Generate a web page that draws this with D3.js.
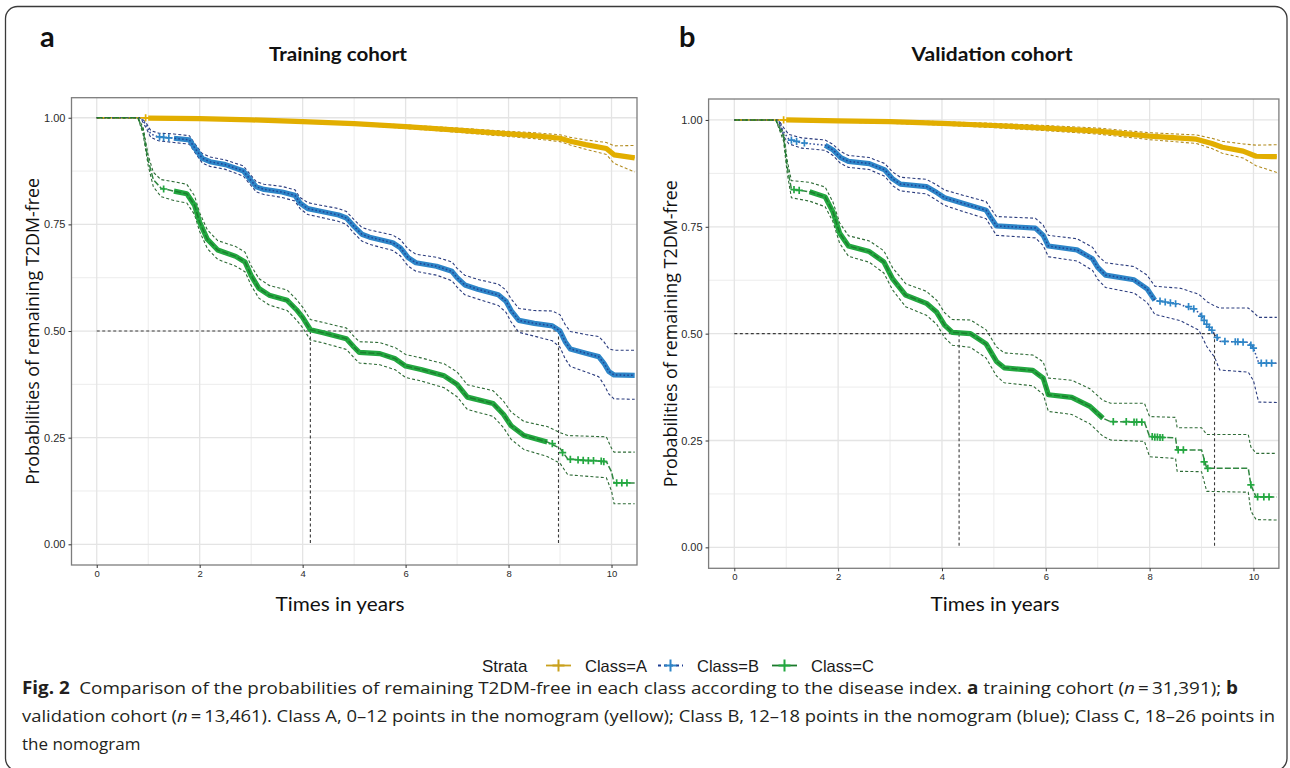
<!DOCTYPE html>
<html><head><meta charset="utf-8">
<script src="https://cdn.jsdelivr.net/npm/d3@7"></script>
<style>body{margin:0;background:#fff}svg{display:block}</style>
</head><body>
<svg id="c" width="1290" height="768"></svg>
<script>
// ---------- DATA ----------
// rows: [time (years), survival estimate, lower CI, upper CI]
const trainA = [[0,1,1,1],[0.9,1,1,1],[1.0,0.999,0.998,1.0],[2,0.998,0.996,1.0],[3,0.995,0.993,0.997],[4,0.991,0.988,0.994],[5,0.986,0.983,0.989],[6,0.979,0.975,0.983],[7,0.971,0.966,0.976],[8,0.962,0.956,0.968],[8.5,0.958,0.951,0.965],[9,0.952,0.944,0.96],[9.2,0.945,0.936,0.954],[9.5,0.937,0.926,0.948],[9.9,0.928,0.914,0.942],[10.05,0.913,0.893,0.934],[10.45,0.906,0.873,0.935]];
const trainB = [[0,1,1,1],[0.85,1,1,1],[0.95,0.985,0.978,0.99],[1.05,0.962,0.954,0.97],[1.2,0.955,0.946,0.964],[1.5,0.952,0.942,0.962],[1.8,0.948,0.938,0.958],[1.9,0.93,0.92,0.94],[2.05,0.905,0.894,0.916],[2.2,0.897,0.886,0.908],[2.5,0.89,0.879,0.901],[2.85,0.875,0.863,0.887],[2.95,0.86,0.848,0.872],[3.1,0.838,0.826,0.85],[3.25,0.832,0.82,0.844],[3.6,0.826,0.813,0.839],[3.85,0.818,0.805,0.831],[3.95,0.8,0.787,0.813],[4.1,0.787,0.773,0.801],[4.3,0.782,0.768,0.796],[4.7,0.772,0.757,0.787],[4.85,0.765,0.75,0.78],[5.0,0.745,0.729,0.761],[5.15,0.727,0.711,0.743],[5.3,0.72,0.703,0.737],[5.75,0.707,0.689,0.725],[5.9,0.695,0.676,0.714],[6.05,0.672,0.652,0.692],[6.2,0.66,0.64,0.68],[6.6,0.652,0.631,0.673],[6.9,0.64,0.618,0.662],[7.0,0.625,0.603,0.647],[7.15,0.608,0.585,0.631],[7.4,0.598,0.575,0.621],[7.8,0.585,0.56,0.61],[7.95,0.57,0.544,0.596],[8.05,0.548,0.521,0.575],[8.2,0.525,0.497,0.553],[8.5,0.518,0.488,0.548],[8.85,0.512,0.477,0.547],[9.0,0.5,0.462,0.538],[9.1,0.475,0.435,0.515],[9.2,0.458,0.417,0.499],[9.5,0.448,0.404,0.492],[9.75,0.44,0.393,0.487],[9.85,0.425,0.375,0.475],[9.95,0.405,0.352,0.458],[10.05,0.397,0.341,0.455],[10.45,0.396,0.34,0.455]];
const trainC = [[0,1,1,1],[0.8,1,1,1],[0.9,0.97,0.962,0.978],[1.0,0.9,0.888,0.912],[1.1,0.855,0.838,0.872],[1.25,0.835,0.815,0.855],[1.5,0.828,0.806,0.85],[1.75,0.822,0.8,0.844],[1.9,0.795,0.773,0.817],[2.0,0.755,0.733,0.777],[2.15,0.715,0.693,0.737],[2.35,0.69,0.668,0.712],[2.7,0.675,0.652,0.698],[2.88,0.662,0.639,0.685],[3.0,0.63,0.607,0.653],[3.15,0.6,0.577,0.623],[3.35,0.584,0.561,0.607],[3.7,0.572,0.548,0.596],[3.88,0.55,0.526,0.574],[4.0,0.532,0.508,0.556],[4.15,0.503,0.479,0.527],[4.4,0.496,0.472,0.52],[4.85,0.482,0.457,0.507],[5.0,0.462,0.437,0.487],[5.1,0.45,0.425,0.475],[5.5,0.447,0.421,0.473],[5.8,0.435,0.409,0.461],[6.0,0.418,0.391,0.445],[6.3,0.41,0.383,0.437],[6.75,0.395,0.367,0.423],[7.0,0.375,0.346,0.404],[7.2,0.345,0.316,0.374],[7.7,0.33,0.3,0.36],[7.9,0.305,0.274,0.336],[8.05,0.278,0.246,0.31],[8.3,0.255,0.222,0.288],[8.75,0.24,0.206,0.276],[9.0,0.225,0.19,0.262],[9.15,0.2,0.163,0.255],[9.9,0.194,0.156,0.252],[10.0,0.17,0.125,0.225],[10.05,0.144,0.095,0.216],[10.45,0.144,0.095,0.216]];
const valA = [[0,1,1,1],[0.9,1,1,1],[1.0,1.0,0.998,1.0],[2,0.998,0.995,1.0],[3,0.996,0.992,0.999],[4,0.992,0.988,0.996],[5,0.987,0.982,0.992],[6,0.981,0.975,0.987],[7,0.974,0.967,0.981],[8,0.962,0.954,0.97],[8.9,0.955,0.945,0.965],[9.2,0.945,0.933,0.957],[9.4,0.936,0.922,0.95],[9.8,0.927,0.911,0.944],[10.05,0.915,0.893,0.941],[10.45,0.914,0.877,0.942]];
const valB = [[0,1,1,1],[0.85,1,1,1],[0.95,0.972,0.962,0.982],[1.05,0.955,0.944,0.966],[1.3,0.946,0.934,0.958],[1.75,0.941,0.929,0.953],[1.9,0.93,0.917,0.943],[2.05,0.912,0.898,0.926],[2.2,0.903,0.889,0.917],[2.6,0.898,0.884,0.912],[2.9,0.883,0.868,0.898],[3.05,0.862,0.846,0.878],[3.2,0.85,0.834,0.866],[3.7,0.844,0.827,0.861],[3.9,0.83,0.812,0.848],[4.05,0.818,0.8,0.836],[4.4,0.805,0.786,0.824],[4.85,0.789,0.769,0.809],[4.95,0.77,0.749,0.791],[5.05,0.752,0.73,0.774],[5.8,0.747,0.724,0.77],[5.95,0.73,0.706,0.754],[6.05,0.705,0.68,0.73],[6.6,0.696,0.67,0.722],[6.9,0.675,0.648,0.702],[7.0,0.655,0.627,0.683],[7.15,0.637,0.608,0.666],[7.7,0.626,0.595,0.657],[7.95,0.605,0.573,0.637],[8.1,0.578,0.545,0.611],[8.6,0.568,0.53,0.606],[8.95,0.55,0.508,0.592],[9.1,0.522,0.47,0.575],[9.25,0.5,0.445,0.565],[9.35,0.482,0.415,0.56],[9.9,0.48,0.41,0.56],[10.0,0.466,0.39,0.55],[10.1,0.432,0.34,0.538],[10.45,0.431,0.339,0.538]];
const valC = [[0,1,1,1],[0.8,1,1,1],[0.95,0.96,0.95,0.97],[1.02,0.89,0.875,0.905],[1.1,0.838,0.818,0.858],[1.45,0.832,0.81,0.854],[1.75,0.82,0.797,0.843],[1.9,0.785,0.762,0.808],[2.03,0.735,0.711,0.759],[2.2,0.705,0.681,0.729],[2.6,0.692,0.667,0.717],[2.88,0.668,0.642,0.694],[3.05,0.628,0.602,0.654],[3.3,0.59,0.563,0.617],[3.7,0.571,0.543,0.599],[3.9,0.55,0.522,0.578],[4.05,0.52,0.491,0.549],[4.2,0.503,0.473,0.533],[4.55,0.5,0.468,0.532],[4.85,0.476,0.443,0.509],[5.05,0.435,0.401,0.469],[5.2,0.42,0.385,0.455],[5.75,0.414,0.378,0.45],[5.95,0.396,0.358,0.434],[6.05,0.357,0.318,0.396],[6.5,0.351,0.311,0.391],[6.85,0.33,0.289,0.371],[7.1,0.302,0.26,0.344],[7.25,0.294,0.251,0.337],[7.9,0.293,0.248,0.337],[8.0,0.259,0.212,0.306],[8.5,0.256,0.208,0.304],[8.53,0.228,0.178,0.28],[9.0,0.228,0.177,0.28],[9.1,0.185,0.131,0.264],[9.9,0.185,0.129,0.264],[9.95,0.146,0.085,0.235],[10.05,0.118,0.065,0.22],[10.45,0.118,0.064,0.22]];

// time span where censoring marks are so dense they form a solid band
const trainA_band = [0.95, 10.45], trainB_band = [1.5, 10.45], trainC_band = [1.4, 8.75];
const valA_band = [0.95, 10.45], valB_band = [1.5, 8.1], valC_band = [1.3, 7.1];

// individual (sparse) censoring marks [time, survival]
const trainA_marks = [[0.95,1.0]];
const trainB_marks = [[1.22,0.955],[1.3,0.954],[1.4,0.953]];
const trainC_marks = [[1.3,0.833],[8.85,0.236],[9.05,0.215],[9.2,0.199],[9.35,0.198],[9.45,0.197],[9.55,0.196],[9.65,0.196],[9.8,0.195],[9.85,0.194],[10.1,0.144],[10.2,0.144],[10.3,0.144]];
const valA_marks = [[0.95,1.0]];
const valB_marks = [[1.1,0.953],[1.2,0.95],[1.35,0.946],[8.2,0.576],[8.3,0.574],[8.4,0.572],[8.5,0.57],[8.75,0.563],[8.85,0.558],[9.0,0.541],[9.05,0.531],[9.1,0.522],[9.15,0.515],[9.2,0.508],[9.3,0.491],[9.45,0.482],[9.65,0.481],[9.7,0.481],[9.8,0.48],[9.95,0.473],[10.0,0.466],[10.15,0.431],[10.25,0.431],[10.35,0.431]];
const valC_marks = [[1.15,0.837],[1.25,0.835],[7.3,0.294],[7.55,0.294],[7.7,0.293],[7.75,0.293],[7.85,0.293],[8.05,0.259],[8.1,0.258],[8.15,0.258],[8.2,0.257],[8.25,0.257],[8.55,0.228],[8.65,0.228],[9.05,0.2],[9.12,0.185],[9.95,0.146],[10.08,0.118],[10.2,0.118],[10.3,0.118]];

// median survival times (B and C) marked by dashed reference lines
const trainMedians = [4.15, 8.97];
const valMedians = [4.33, 9.25];

const classes = ["A", "B", "C"];
const classLabels = ["Class=A", "Class=B", "Class=C"];
const xTicks = [0, 2, 4, 6, 8, 10];
const xMinor = [1, 3, 5, 7, 9];
const yTicks = [0, 0.25, 0.5, 0.75, 1];
const yMinor = [0.125, 0.375, 0.625, 0.875];
const panelTitles = ["Training cohort", "Validation cohort"];
const panelLetters = ["a", "b"];

// ---------- STYLES ----------
const style = {
  A: {mark: "#E2AE00", line: "#E2AE00", ci: "#B38D22", dash: null, key: "#C9A11E", keyDash: null},
  B: {mark: "#2E86C8", line: "#1F3F93", ci: "#2B3C7E", dash: "1.6,2.2", key: "#1F3F93", keyDash: "3,3"},
  C: {mark: "#23A840", line: "#1B7A2C", ci: "#2E6B36", dash: "6,2.2", key: "#1B7A2C", keyDash: null}
};

const svg = d3.select("#c");
const defs = svg.append("defs");

// outer frame
svg.append("rect").attr("x", 5.5).attr("y", 6.5).attr("width", 1281.5).attr("height", 764)
  .attr("rx", 12).attr("fill", "none").attr("stroke", "#3a3a3a").attr("stroke-width", 1.3);

const panels = [
  {series: {A: trainA, B: trainB, C: trainC}, bands: {A: trainA_band, B: trainB_band, C: trainC_band},
   marks: {A: trainA_marks, B: trainB_marks, C: trainC_marks}, medians: trainMedians,
   l: 71.5, r: 637, t: 97.7, b: 565, xdom: [-0.49, 10.495], ydom: [-0.0485, 1.047],
   letterX: 40, titleX: 338, titleW: 138, yTitleX: 39, xTitleX: 340},
  {series: {A: valA, B: valB, C: valC}, bands: {A: valA_band, B: valB_band, C: valC_band},
   marks: {A: valA_marks, B: valB_marks, C: valC_marks}, medians: valMedians,
   l: 708.6, r: 1278.9, t: 99, b: 568.3, xdom: [-0.495, 10.49], ydom: [-0.049, 1.049],
   letterX: 679, titleX: 992, titleW: 161, yTitleX: 677, xTitleX: 995}
];

function plus(x, y, s) { return `M${x - s},${y}h${2 * s}M${x},${y - s}v${2 * s}`; }

panels.forEach((p, i) => {
  const x = d3.scaleLinear().domain(p.xdom).range([p.l, p.r]);
  const y = d3.scaleLinear().domain(p.ydom).range([p.b, p.t]);
  const g = svg.append("g");

  g.append("rect").attr("x", p.l).attr("y", p.t).attr("width", p.r - p.l).attr("height", p.b - p.t).attr("fill", "#fff");
  // grid
  g.selectAll(null).data(xMinor).join("line").attr("x1", d => x(d)).attr("x2", d => x(d))
    .attr("y1", p.t).attr("y2", p.b).attr("stroke", "#ececec").attr("stroke-width", 1);
  g.selectAll(null).data(yMinor).join("line").attr("y1", d => y(d)).attr("y2", d => y(d))
    .attr("x1", p.l).attr("x2", p.r).attr("stroke", "#ececec").attr("stroke-width", 1);
  g.selectAll(null).data(xTicks).join("line").attr("x1", d => x(d)).attr("x2", d => x(d))
    .attr("y1", p.t).attr("y2", p.b).attr("stroke", "#e4e4e4").attr("stroke-width", 1.3);
  g.selectAll(null).data(yTicks).join("line").attr("y1", d => y(d)).attr("y2", d => y(d))
    .attr("x1", p.l).attr("x2", p.r).attr("stroke", "#e4e4e4").attr("stroke-width", 1.3);

  const cid = "clip" + i;
  defs.append("clipPath").attr("id", cid).append("rect")
    .attr("x", p.l).attr("y", p.t).attr("width", p.r - p.l).attr("height", p.b - p.t);
  const pg = g.append("g").attr("clip-path", `url(#${cid})`);

  const lineCol = k => d3.line().x(d => x(d[0])).y(d => y(d[k]));

  // confidence limits
  classes.forEach(c => {
    const rows = p.series[c];
    [2, 3].forEach(k => {
      pg.append("path").datum(rows).attr("d", lineCol(k)).attr("fill", "none")
        .attr("stroke", style[c].ci).attr("stroke-width", 1.1).attr("stroke-dasharray", "3,2.2");
    });
  });

  // median reference lines
  const med = p.medians;
  pg.append("line").attr("x1", x(0)).attr("x2", x(med[1])).attr("y1", y(0.5)).attr("y2", y(0.5))
    .attr("stroke", "#3b3b3b").attr("stroke-width", 1.1).attr("stroke-dasharray", "3,2.5");
  pg.selectAll(null).data(med).join("line").attr("x1", d => x(d)).attr("x2", d => x(d))
    .attr("y1", y(0.5)).attr("y2", y(0)).attr("stroke", "#3b3b3b").attr("stroke-width", 1.1)
    .attr("stroke-dasharray", "3,2.5");

  // survival curves
  classes.forEach(c => {
    const rows = p.series[c];
    const s = style[c];
    const band = p.bands[c];
    const bandRows = rows.filter(d => d[0] >= band[0] && d[0] <= band[1]);
    pg.append("path").datum(bandRows).attr("d", lineCol(1)).attr("fill", "none")
      .attr("stroke", s.mark).attr("stroke-width", 5.2).attr("stroke-linejoin", "round");
    pg.append("path").datum(rows).attr("d", lineCol(1)).attr("fill", "none")
      .attr("stroke", s.line).attr("stroke-width", 1.5).attr("stroke-dasharray", s.dash)
      .attr("opacity", c === "A" ? 1 : 0.9);
    pg.selectAll(null).data(p.marks[c]).join("path")
      .attr("d", d => plus(x(d[0]), y(d[1]), 3.6)).attr("stroke", s.mark).attr("stroke-width", 1.7).attr("fill", "none");
  });

  // border
  g.append("rect").attr("x", p.l).attr("y", p.t).attr("width", p.r - p.l).attr("height", p.b - p.t)
    .attr("fill", "none").attr("stroke", "#7d7d7d").attr("stroke-width", 1.3);

  // axes
  const xa = g.append("g").attr("transform", `translate(0,${p.b})`)
    .call(d3.axisBottom(x).tickValues(xTicks).tickSize(3).tickPadding(2).tickFormat(d3.format("d")));
  xa.select(".domain").remove();
  xa.selectAll("line").attr("stroke", "#333");
  xa.selectAll("text").attr("fill", "#2a2a2a").style("font", "9.5px 'Liberation Sans', Arial, sans-serif");

  const ya = g.append("g").attr("transform", `translate(${p.l},0)`)
    .call(d3.axisLeft(y).tickValues(yTicks).tickSize(3).tickPadding(3).tickFormat(d3.format(".2f")));
  ya.select(".domain").remove();
  ya.selectAll("line").attr("stroke", "#333");
  ya.selectAll("text").attr("fill", "#2a2a2a").style("font", "11px 'Liberation Sans', Arial, sans-serif");

  // titles
  svg.append("text").attr("x", p.letterX).attr("y", 47).text(panelLetters[i])
    .style("font", "bold 29px Lato, 'Open Sans', sans-serif").attr("fill", "#111");
  svg.append("text").attr("x", p.titleX).attr("y", 61).attr("text-anchor", "middle").text(panelTitles[i])
    .style("font", "bold 19.5px Lato, 'Open Sans', sans-serif").attr("fill", "#111")
    .attr("textLength", p.titleW).attr("lengthAdjust", "spacingAndGlyphs");
  const cy = (p.t + p.b) / 2;
  svg.append("text").attr("transform", `translate(${p.yTitleX},${cy}) rotate(-90)`).attr("text-anchor", "middle")
    .text("Probabilities of remaining T2DM-free").style("font", "18px 'Open Sans', Lato, sans-serif").attr("fill", "#111")
    .attr("textLength", 307).attr("lengthAdjust", "spacingAndGlyphs");
  svg.append("text").attr("x", p.xTitleX).attr("y", 611).attr("text-anchor", "middle").text("Times in years")
    .style("font", "19.5px Lato, 'Open Sans', sans-serif").attr("fill", "#111")
    .attr("textLength", 129).attr("lengthAdjust", "spacingAndGlyphs");
});

// ---------- LEGEND ----------
const lg = svg.append("g").style("font-family", "'Liberation Sans', Arial, sans-serif");
lg.append("text").attr("x", 482).attr("y", 672).text("Strata").style("font-size", "17px").attr("fill", "#1a1a1a");
const keyX = [546, 658, 772];
classes.forEach((c, i) => {
  const x0 = keyX[i], yk = 665.5, s = style[c];
  lg.append("line").attr("x1", x0).attr("x2", x0 + 25).attr("y1", yk).attr("y2", yk)
    .attr("stroke", s.key).attr("stroke-width", 1.8).attr("stroke-dasharray", s.keyDash);
  lg.append("path").attr("d", plus(x0 + 12.5, yk, 6)).attr("stroke", c === "A" ? s.key : s.mark)
    .attr("stroke-width", 2).attr("fill", "none");
  lg.append("text").attr("x", x0 + 39).attr("y", 672).text(classLabels[i]).style("font-size", "16.5px").attr("fill", "#1a1a1a");
});

// ---------- CAPTION ----------
const cap = svg.append("g").style("font-family", "'Open Sans', 'Noto Sans', sans-serif").style("font-size", "17px").attr("fill", "#231f20");
const l1 = cap.append("text").attr("x", 22).attr("y", 694).attr("textLength", 1216).attr("lengthAdjust", "spacingAndGlyphs");
l1.append("tspan").attr("font-weight", "bold").text("Fig. 2");
l1.append("tspan").text("\u2002Comparison of the probabilities of remaining T2DM-free in each class according to the disease index. ");
l1.append("tspan").attr("font-weight", "bold").text("a");
l1.append("tspan").text(" training cohort (");
l1.append("tspan").attr("font-style", "italic").text("n");
l1.append("tspan").text("\u2009=\u200931,391); ");
l1.append("tspan").attr("font-weight", "bold").text("b");
const l2 = cap.append("text").attr("x", 22).attr("y", 722).attr("textLength", 1253).attr("lengthAdjust", "spacingAndGlyphs");
l2.append("tspan").text("validation cohort (");
l2.append("tspan").attr("font-style", "italic").text("n");
l2.append("tspan").text("\u2009=\u200913,461). Class A, 0\u201312 points in the nomogram (yellow); Class B, 12\u201318 points in the nomogram (blue); Class C, 18\u201326 points in");
cap.append("text").attr("x", 22).attr("y", 750).text("the nomogram");
</script>
</body></html>
